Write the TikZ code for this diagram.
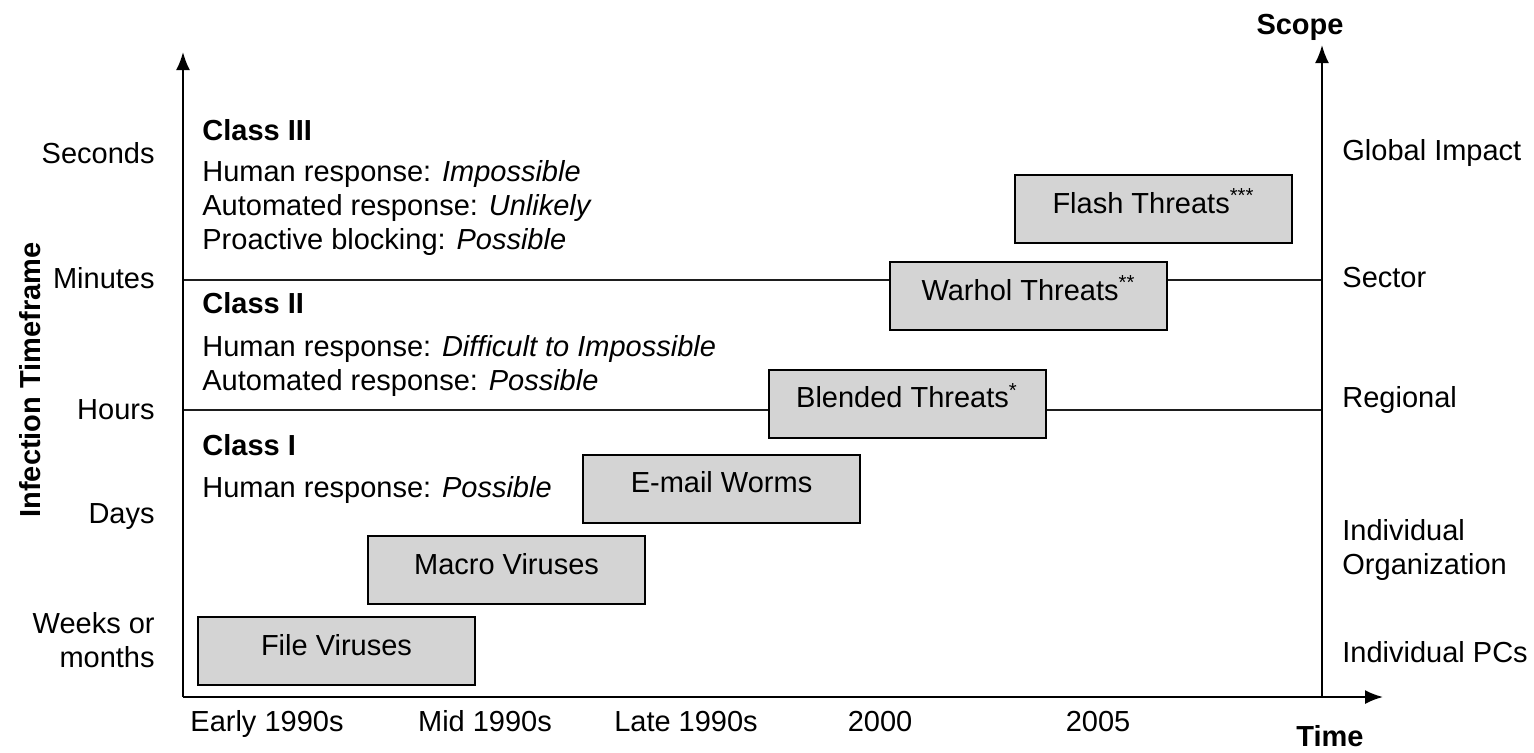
\documentclass[tikz,border=0pt]{standalone}
\usepackage{fontspec}
\setmainfont{Liberation Sans}
\usepackage{tikz}
\usetikzlibrary{positioning, arrows.meta}
\definecolor{myBoxGray}{RGB}{212,212,212}
\definecolor{myLineGray}{RGB}{30,30,30}
\tikzset{threat/.style={draw,line width=1pt,fill=myBoxGray,minimum width=138.5pt,minimum height=34pt,inner sep=0pt,text height=10pt,text depth=6pt}}

\begin{document}
\begin{tikzpicture}[%
        x=0.5pt, y=-0.5pt,
        every node/.style={
            font=\fontsize{14.5}{17}\selectfont,
            inner sep=0pt,
        },
    ]
    \useasboundingbox (0,0) rectangle (1534,752);

    % axis corners
    \coordinate (origin) at (183,697);
    \coordinate (ytop) at (183,52);
    \coordinate (xend) at (1383,697);
    \coordinate (rbot) at (1322,697);
    \coordinate (rtop) at (1322,45);
    \coordinate (minL) at (183,280);
    \coordinate (minR) at (1322,280);
    \coordinate (hrsL) at (183,410);
    \coordinate (hrsR) at (1322,410);

    % draw class borders
    \draw[myLineGray,line width=0.8pt] (minL) -- (minR);
    \draw[myLineGray,line width=0.8pt] (hrsL) -- (hrsR);

    % draw axes
    \draw[line width=1pt,-{Latex[length=9pt,width=7pt]}] (origin) -- (ytop);
    \draw[line width=1pt,-{Latex[length=9pt,width=7pt]}] (origin) -- (xend);
    \draw[line width=1pt,-{Latex[length=9pt,width=7pt]}] (rbot) -- (rtop);

    % axis titles
    \node[font=\fontsize{14.5}{17}\selectfont\bfseries,rotate=90] (ytitle) at (30,380) {Infection Timeframe};
    \node[font=\fontsize{14.5}{17}\selectfont\bfseries] (stitle) at (1300,27) {Scope};
    \node[font=\fontsize{14.5}{17}\selectfont\bfseries,anchor=base] (ttitle) at (1330,746) {Time};

    % timeframe labels
    \node[anchor=east] (sec) at (155,153) {Seconds};
    \node[anchor=east] (mins) at (155,278) {Minutes};
    \node[anchor=east] (hrs) at (155,410) {Hours};
    \node[anchor=east] (days) at (155,517) {Days};
    \node[anchor=east,align=right] (weeks) at (155,640) {Weeks or\\months};

    % scope labels
    \node[anchor=west] (glob) at (1342,153) {Global Impact};
    \node[anchor=west] (sect) at (1342,278) {Sector};
    \node[anchor=west] (regi) at (1342,400) {Regional};
    \node[anchor=west,align=left] (org) at (1342,550) {Individual\\Organization};
    \node[anchor=west] (pcs) at (1342,652) {Individual PCs};

    % time labels
    \node[anchor=base] (early) at (267,731) {Early 1990s};
    \node[anchor=base] (mid) at (485,731) {Mid 1990s};
    \node[anchor=base] (late) at (686,731) {Late 1990s};
    \node[anchor=base] (y2000) at (880,731) {2000};
    \node[anchor=base] (y2005) at (1098,731) {2005};

    % class descriptions
    \node[anchor=west,font=\fontsize{14.5}{17}\selectfont\bfseries] (c3) at (202,130) {Class III};
    \node[anchor=west] (c3a) at (202,174) {Human response: \textit{Impossible}};
    \node[anchor=west] (c3b) at (202,208) {Automated response: \textit{Unlikely}};
    \node[anchor=west] (c3c) at (202,242) {Proactive blocking: \textit{Possible}};
    \node[anchor=west,font=\fontsize{14.5}{17}\selectfont\bfseries] (c2) at (202,303) {Class II};
    \node[anchor=west] (c2a) at (202,349) {Human response: \textit{Difficult to Impossible}};
    \node[anchor=west] (c2b) at (202,383) {Automated response: \textit{Possible}};
    \node[anchor=west,font=\fontsize{14.5}{17}\selectfont\bfseries] (c1) at (202,445) {Class I};
    \node[anchor=west] (c1a) at (202,490) {Human response: \textit{Possible}};

    % threat boxes
    \node[threat] (file) at (336.5,651) {File Viruses};
    \node[threat] (macro) at (506.5,570) {Macro Viruses};
    \node[threat] (email) at (721.5,488.5) {E-mail Worms};
    \node[threat] (blend) at (907,403.5) {Blended Threats\textsuperscript{*}};
    \node[threat] (warhol) at (1028.5,296) {Warhol Threats\textsuperscript{**}};
    \node[threat] (flash) at (1153.5,209) {Flash Threats\textsuperscript{***}};

\end{tikzpicture}
\end{document}
